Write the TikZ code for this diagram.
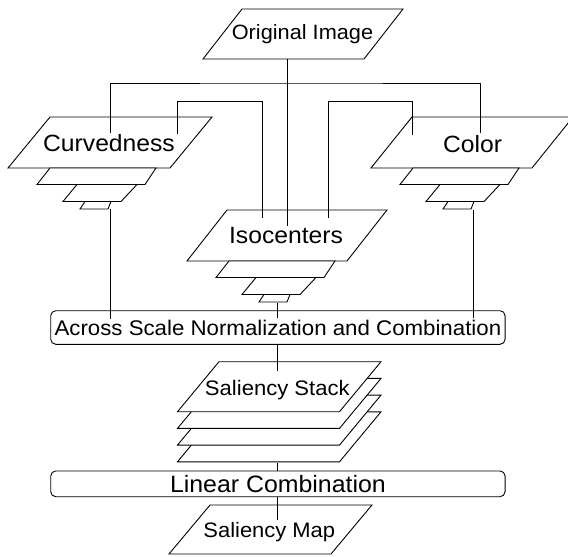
\documentclass[tikz,border=0pt]{standalone}
\usepackage{fontspec}
\setmainfont{Liberation Sans}[FakeStretch=1.05]
\tikzset{
  shapeline/.style={draw=black, line width=0.9pt, fill=white, line join=miter},
  conn/.style={draw=black, line width=0.9pt},
  lbl/.style={inner sep=0pt, anchor=base},
  rbox/.style={draw=black, line width=0.9pt, rounded corners=5pt, inner sep=0pt, fill=white},
}
\newcommand\pgram[5]{%
  \path[shapeline] (#1,#2) -- ++(#3,0) -- ++(#5,-#4) -- ++(-#3,0) -- cycle;}
\newcommand\pyr[2]{%
  \path[shapeline] ({#1+29},{#2+16.5}) -- ({#1+137},{#2+16.5}) -- ({#1+148},{#2}) -- ({#1+42},{#2}) -- cycle;
  \path[shapeline] ({#1+55},{#2+33.5}) -- ({#1+113},{#2+33.5}) -- ({#1+129},{#2+16.5}) -- ({#1+69},{#2+16.5}) -- cycle;
  \path[shapeline] ({#1+72},{#2+41}) -- ({#1+100},{#2+41}) -- ({#1+103},{#2+33.5}) -- ({#1+77},{#2+33.5}) -- cycle;}
\begin{document}
\begin{tikzpicture}[x=1pt, y=-1pt]
\useasboundingbox (0,0) rectangle (568,557);
\clip (0,0) rectangle (568,557);
\fill[white] (0,0) rectangle (568,557);

% shapes
\pgram{203}{59}{161}{50}{39}
\pgram{8}{168}{162}{51}{42}
\pyr{8}{168}
\pgram{371}{168}{161}{51}{41}
\pyr{371}{168}
\pgram{187}{261}{160}{51}{40}
\pyr{187}{261}
\foreach \k in {3,2,1,0}{\pgram{177.5}{411.7+16.7*\k}{162}{50}{41.5}}
\pgram{169}{554}{162}{49}{41}

% boxes
\node[rbox, minimum width=454.3pt, minimum height=33.6pt, font=\fontsize{21.2}{24}\selectfont] (across) at (277.9,327.5) {Across Scale Normalization and Combination};
\node[rbox, minimum width=454.3pt, minimum height=25.7pt, font=\fontsize{23.7}{26}\selectfont] (linear) at (277.9,483.85) {Linear Combination};

% connector end points
\coordinate (oB) at (287,59);
\coordinate (isoT) at (287,226);
\coordinate (bar) at (287,83);
\coordinate (curvA) at (110,133);
\coordinate (colA) at (480,133);
\coordinate (curvB) at (177,134);
\coordinate (isoL) at (262,218);
\coordinate (colB) at (412,135);
\coordinate (isoR) at (328,218);
\coordinate (curvC) at (110,209);
\coordinate (isoC) at (277.7,302.5);
\coordinate (colC) at (473,210);
\coordinate (acrC) at (110,319);
\coordinate (acrI) at (277.7,318);
\coordinate (acrR) at (473,318);
\coordinate (stT) at (277.7,370.7);
\coordinate (stB) at (277.7,462.7);
\coordinate (mapT) at (277.7,520);

% connectors
\draw[conn] (oB) -- (isoT);
\draw[conn] (curvA) |- (bar) -| (colA);
\draw[conn] (curvB) -- ++(0,-33) -| (isoL);
\draw[conn] (colB) -- ++(0,-34) -| (isoR);
\draw[conn] (curvC) -- (acrC);
\draw[conn] (isoC) -- (acrI);
\draw[conn] (colC) -- (acrR);
\draw[conn] (across.south -| stT) -- (stT);
\draw[conn] (stB) -- (linear.north -| stB);
\draw[conn] (linear.south -| mapT) -- (mapT);

% labels
\node[lbl, font=\fontsize{20.7}{24}\selectfont] (orig) at (302.5,39.5) {Original Image};
\node[lbl, font=\fontsize{23.5}{26}\selectfont] (curv) at (109,151) {Curvedness};
\node[lbl, font=\fontsize{23.5}{26}\selectfont] (color) at (472.5,152) {Color};
\node[lbl, font=\fontsize{23.5}{26}\selectfont] (iso) at (286,243) {Isocenters};
\node[lbl, font=\fontsize{21}{24}\selectfont] (stack) at (277.3,395) {Saliency Stack};
\node[lbl, font=\fontsize{20.9}{24}\selectfont] (smap) at (269.3,537) {Saliency Map};
\end{tikzpicture}
\end{document}
